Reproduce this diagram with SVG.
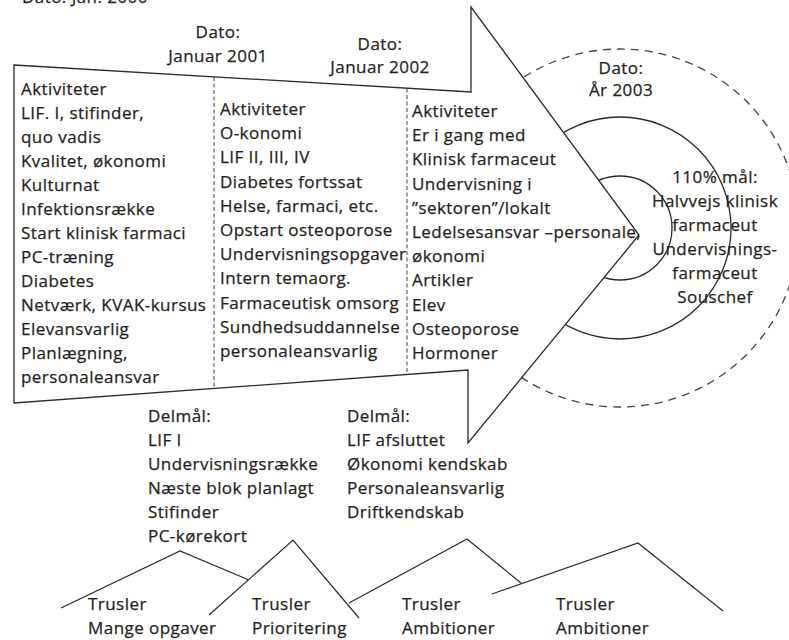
<svg xmlns="http://www.w3.org/2000/svg" width="789" height="640" viewBox="0 0 789 640">
  <style>
    text { font-family: "Open Sans", "Noto Sans", "Liberation Sans", sans-serif; font-size: 17px; letter-spacing: 0.45px; fill: #231f20; stroke: #231f20; stroke-width: 0.25; }
    .mid { text-anchor: middle; }
    .outline { fill: #ffffff; stroke: #2b2b2b; stroke-width: 1.3; stroke-linejoin: miter; }
    .ring { fill: none; stroke: #2b2b2b; stroke-width: 1.3; }
    .ring-dash { fill: none; stroke: #444; stroke-width: 1.3; stroke-dasharray: 8 6; }
    .divider { stroke: #444; stroke-width: 1; stroke-dasharray: 4 2.5; fill: none; }
    .peak { fill: none; stroke: #2b2b2b; stroke-width: 1.2; stroke-linejoin: miter; }
  </style>

  <rect width="789" height="640" fill="#ffffff"/>

  <!-- top line, mostly above the page edge -->
  <g id="date-2000">
    <text x="22" y="3">Dato: Jan. 2000</text>
  </g>

  <!-- target rings around the arrow tip (left halves hidden by the arrow) -->
  <g id="target">
    <circle class="ring-dash" cx="620" cy="228" r="179"/>
    <circle class="ring" cx="620" cy="228" r="111"/>
    <circle class="ring" cx="620" cy="228" r="52"/>
  </g>

  <!-- big arrow -->
  <g id="arrow">
    <polygon class="outline" points="14,65 471,92 471,7 639,235 468,443 468,370 14,403"/>
    <line class="divider" x1="214" y1="77" x2="214" y2="388"/>
    <line class="divider" x1="407" y1="88.5" x2="407" y2="374"/>
  </g>

  <g id="date-2001">
    <text class="mid" x="218" y="38">Dato:</text>
    <text class="mid" x="218" y="62">Januar 2001</text>
  </g>
  <g id="date-2002">
    <text class="mid" x="380" y="50">Dato:</text>
    <text class="mid" x="380" y="73">Januar 2002</text>
  </g>
  <g id="date-2003">
    <text class="mid" x="621" y="74">Dato:</text>
    <text class="mid" x="621" y="96">År 2003</text>
  </g>

  <g id="activities-2000">
    <text x="21" y="95">Aktiviteter</text>
    <text x="21" y="119">LIF. I, stifinder,</text>
    <text x="21" y="143">quo vadis</text>
    <text x="21" y="167">Kvalitet, økonomi</text>
    <text x="21" y="191">Kulturnat</text>
    <text x="21" y="215">Infektionsrække</text>
    <text x="21" y="239">Start klinisk farmaci</text>
    <text x="21" y="263">PC-træning</text>
    <text x="21" y="287">Diabetes</text>
    <text x="21" y="311">Netværk, KVAK-kursus</text>
    <text x="21" y="335">Elevansvarlig</text>
    <text x="21" y="359">Planlægning,</text>
    <text x="21" y="383">personaleansvar</text>
  </g>

  <g id="activities-2001">
    <text x="220" y="115">Aktiviteter</text>
    <text x="220" y="139">O-konomi</text>
    <text x="220" y="163">LIF II, III, IV</text>
    <text x="220" y="188">Diabetes fortssat</text>
    <text x="220" y="212">Helse, farmaci, etc.</text>
    <text x="220" y="236">Opstart osteoporose</text>
    <text x="220" y="260">Undervisningsopgaver</text>
    <text x="220" y="284">Intern temaorg.</text>
    <text x="220" y="309">Farmaceutisk omsorg</text>
    <text x="220" y="333">Sundhedsuddannelse</text>
    <text x="220" y="357">personaleansvarlig</text>
  </g>

  <g id="activities-2002">
    <text x="412" y="117">Aktiviteter</text>
    <text x="412" y="141">Er i gang med</text>
    <text x="412" y="165">Klinisk farmaceut</text>
    <text x="412" y="190">Undervisning i</text>
    <text x="412" y="214">”sektoren”/lokalt</text>
    <text x="412" y="238">Ledelsesansvar –personale,</text>
    <text x="412" y="262">økonomi</text>
    <text x="412" y="286">Artikler</text>
    <text x="412" y="311">Elev</text>
    <text x="412" y="335">Osteoporose</text>
    <text x="412" y="359">Hormoner</text>
  </g>

  <g id="goal-2003">
    <text class="mid" x="715" y="183">110% mål:</text>
    <text class="mid" x="715" y="207">Halvvejs klinisk</text>
    <text class="mid" x="715" y="231">farmaceut</text>
    <text class="mid" x="715" y="255">Undervisnings-</text>
    <text class="mid" x="715" y="279">farmaceut</text>
    <text class="mid" x="715" y="303">Souschef</text>
  </g>

  <g id="milestones-2001">
    <text x="148" y="422">Delmål:</text>
    <text x="148" y="446">LIF I</text>
    <text x="148" y="470">Undervisningsrække</text>
    <text x="148" y="494">Næste blok planlagt</text>
    <text x="148" y="518">Stifinder</text>
    <text x="148" y="542">PC-kørekort</text>
  </g>

  <g id="milestones-2002">
    <text x="347" y="422">Delmål:</text>
    <text x="347" y="446">LIF afsluttet</text>
    <text x="347" y="470">Økonomi kendskab</text>
    <text x="347" y="494">Personaleansvarlig</text>
    <text x="347" y="518">Driftkendskab</text>
  </g>

  <!-- threat peaks along the bottom -->
  <g id="connectors">
    <polyline class="peak" points="61,608 180,551 249,580"/>
    <polyline class="peak" points="209,615 293,540 359,618"/>
    <polyline class="peak" points="349,603 467,539 521,583"/>
    <polyline class="peak" points="492,594 638,543 723,611"/>
  </g>

  <g id="threat-1">
    <text x="88" y="610">Trusler</text>
    <text x="88" y="634">Mange opgaver</text>
  </g>
  <g id="threat-2">
    <text x="252" y="610">Trusler</text>
    <text x="252" y="634">Prioritering</text>
  </g>
  <g id="threat-3">
    <text x="402" y="610">Trusler</text>
    <text x="402" y="634">Ambitioner</text>
  </g>
  <g id="threat-4">
    <text x="556" y="610">Trusler</text>
    <text x="556" y="634">Ambitioner</text>
  </g>
</svg>
